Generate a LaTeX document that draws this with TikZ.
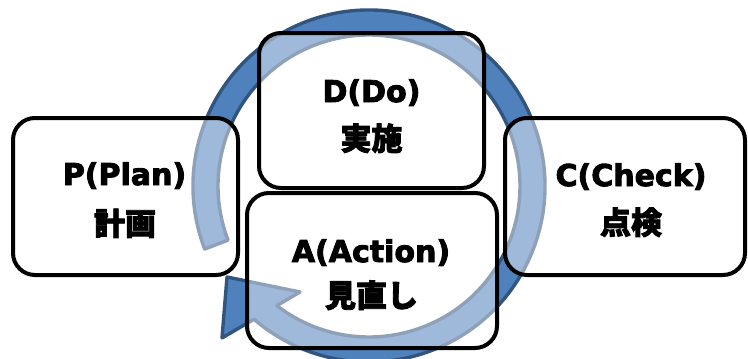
\documentclass[tikz,border=0pt]{standalone}
\usepackage{fontspec}
\newfontfamily\jpfont{Noto Sans CJK JP}[BoldFeatures={FakeBold=2.6}]
\newfontfamily\latfont{DejaVu Sans}[BoldFeatures={FakeBold=3}]
\definecolor{arrowfill}{RGB}{79,129,189}
\definecolor{arrowline}{RGB}{50,85,128}
\tikzset{
  cyclearrow/.style={fill=arrowfill, draw=arrowline, line width=3.4pt, line join=round},
  stagebox/.style={draw=black, line width=4pt, fill=white, fill opacity=0.45, draw opacity=1,
    text opacity=1, rounded corners=22pt, inner sep=0pt},
  latlbl/.style={anchor=base, inner sep=0pt, font=\latfont\bfseries\fontsize{30}{36}\selectfont},
  jplbl/.style={anchor=base, inner sep=0pt, font=\jpfont\bfseries\fontsize{31}{36}\selectfont}
}
\begin{document}
\begin{tikzpicture}[x=1pt,y=-1pt]
\useasboundingbox (0,0) rectangle (748,359);
\coordinate (ctr) at (369,186);
\coordinate (tipo) at (222,338);
\coordinate (tip) at (227,277);
\coordinate (tipi) at (300,292);
% circular arrow
\path[cyclearrow] ([shift={(159:176)}]ctr) arc[start angle=159, end angle=490.8, radius=176]
  -- (tipo) -- (tip) -- (tipi) -- ([shift={(127.6:151)}]ctr)
  arc[start angle=487.6, end angle=159, radius=151] -- cycle;
% boxes
\node[stagebox, minimum width=225pt, minimum height=157pt] (P) at (125.5,196.5) {};
\node[stagebox, minimum width=225pt, minimum height=155pt] (D) at (371.5,110.5) {};
\node[stagebox, minimum width=250pt, minimum height=155pt] (A) at (372,270.5) {};
\node[stagebox, minimum width=240pt, minimum height=157pt] (C) at (625,196.5) {};
% labels
\node[latlbl] (P1) at (124.5,185) {P(Plan)};
\node[jplbl] (P2) at (125,235) {計画};
\node[latlbl] (D1) at (371.5,102) {D(Do)};
\node[jplbl] (D2) at (371.5,150) {実施};
\node[latlbl] (A1) at (371,262) {A(Action)};
\node[jplbl] (A2) at (371.5,307) {見直し};
\node[latlbl] (C1) at (631,186) {C(Check)};
\node[jplbl] (C2) at (631,234) {点検};
\end{tikzpicture}
\end{document}
